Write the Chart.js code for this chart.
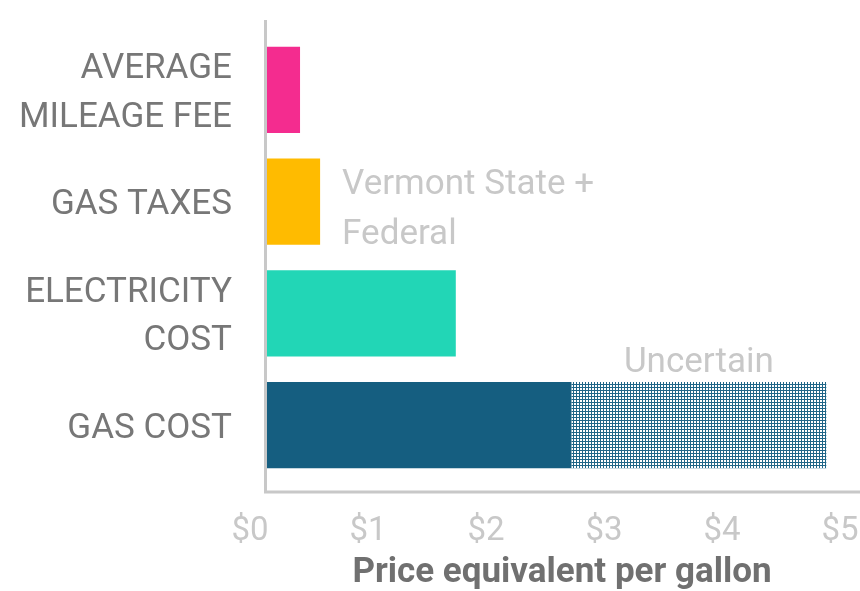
<!DOCTYPE html>
<html>
<head>
<meta charset="utf-8">
<script src="https://cdn.jsdelivr.net/npm/chart.js@4"></script>
<style>
  body { margin: 0; background: #fff; }
  #wrap { width: 860px; height: 591px; }
</style>
</head>
<body>
<div id="wrap"><canvas id="barChart"></canvas></div>
<script>
// Values ($ per gallon equivalent)
const categories = [['AVERAGE', 'MILEAGE FEE'], 'GAS TAXES', ['ELECTRICITY', 'COST'], 'GAS COST'];
const knownCost = [0.28, 0.45, 1.60, 2.58];
const uncertainCost = [0, 0, 0, 2.16];
const barColors = ['#F42C8F', '#FFBB00', '#22D6B6', '#155E80'];
const xTickValues = [0, 1, 2, 3, 4, 5];

// dotted fill for the uncertain part
function makePattern() {
    const c = document.createElement('canvas');
    c.width = 3; c.height = 3;
    const g = c.getContext('2d');
    g.fillStyle = '#1f6688';
    g.fillRect(0, 0, 3, 3);
    g.fillStyle = '#ffffff';
    g.fillRect(1, 1, 2, 2);
    return g.createPattern(c, 'repeat');
}

// L shaped axis lines, a bit longer than the plot area
const axisLines = {
    id: 'axisLines',
    afterDatasetsDraw(chart) {
        const { ctx, chartArea } = chart;
        ctx.save();
        ctx.strokeStyle = '#c8c8c8';
        ctx.lineWidth = 3;
        ctx.beginPath();
        ctx.moveTo(chartArea.left - 1.5, chartArea.top - 14);
        ctx.lineTo(chartArea.left - 1.5, chartArea.bottom + 11);
        ctx.lineTo(chart.width, chartArea.bottom + 11);
        ctx.stroke();
        ctx.restore();
    }
};

// notes next to the bars
const notes = {
    id: 'notes',
    afterDatasetsDraw(chart) {
        const { ctx } = chart;
        const x = chart.scales.x, y = chart.scales.y;
        ctx.save();
        ctx.fillStyle = '#c8c8c8';
        ctx.font = '35px Roboto';
        ctx.textBaseline = 'alphabetic';

        // gas taxes
        ctx.textAlign = 'left';
        const tx = x.getPixelForValue(knownCost[1]) + 22;
        const ty = y.getPixelForValue(1);
        ctx.fillText('Vermont State +', tx, ty - 8);
        ctx.fillText('Federal', tx, ty + 42);

        // uncertain part of gas cost
        const meta = chart.getDatasetMeta(1).data[3];
        ctx.textAlign = 'center';
        const ux = (x.getPixelForValue(knownCost[3]) + x.getPixelForValue(knownCost[3] + uncertainCost[3])) / 2;
        ctx.fillText('Uncertain', ux, meta.y - meta.height / 2 - 10);
        ctx.restore();
    }
};

const bar = document.getElementById('barChart');

new Chart(bar, {
    type: 'bar',
    data: {
        labels: categories,
        datasets: [
            {
                label: 'Cost',
                data: knownCost,
                backgroundColor: barColors,
                categoryPercentage: 1,
                barPercentage: 0.77
            },
            {
                label: 'Uncertain',
                data: uncertainCost,
                backgroundColor: makePattern(),
                categoryPercentage: 1,
                barPercentage: 0.77
            }
        ]
    },
    options: {
        indexAxis: 'y',
        responsive: true,
        maintainAspectRatio: false,
        animation: false,
        layout: { padding: { top: 34, right: 3, left: 0, bottom: 0 } },
        plugins: {
            legend: { display: false },
            tooltip: { enabled: false }
        },
        scales: {
            x: {
                type: 'linear',
                stacked: true,
                min: 0,
                max: 5,
                afterBuildTicks: scale => {
                    scale.ticks = xTickValues.map(v => ({ value: v }));
                },
                afterFit: scale => {
                    scale.height = 110;
                    scale.paddingLeft = 0;
                    scale.paddingRight = 0;
                },
                grid: { display: false, drawTicks: false },
                border: { display: false },
                ticks: {
                    callback: v => '$' + v,
                    color: '#c8c8c8',
                    font: { family: 'Roboto', size: 33 },
                    padding: 31,
                    labelOffset: -17,
                    maxRotation: 0
                },
                title: {
                    display: true,
                    text: 'Price equivalent per gallon',
                    color: '#707070',
                    font: { family: 'Roboto', size: 35, weight: 'bold' },
                    padding: { top: 0, bottom: -3 }
                }
            },
            y: {
                stacked: true,
                afterFit: scale => {
                    scale.width = 267;
                    scale.paddingTop = 0;
                    scale.paddingBottom = 0;
                },
                grid: { display: false, drawTicks: false },
                border: { display: false },
                ticks: {
                    color: '#777777',
                    font: { family: 'Roboto', size: 35, lineHeight: 1.38 },
                    padding: 35,
                    labelOffset: 4
                }
            }
        }
    },
    plugins: [axisLines, notes]
});
</script>
</body>
</html>
